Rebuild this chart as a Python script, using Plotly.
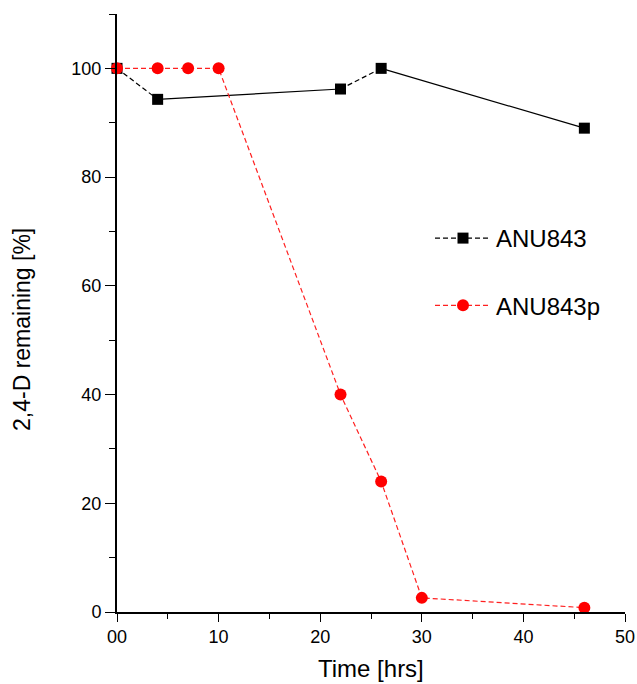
import plotly.graph_objects as go

# Data
time_anu843 = [0, 4, 22, 26, 46]
rem_anu843 = [100, 94.3, 96.2, 100, 89.0]
seg_styles_anu843 = ["5px,3px", "solid", "5px,3px", "solid"]

time_anu843p = [0, 4, 7, 10, 22, 26, 30, 46]
rem_anu843p = [100, 100, 100, 100, 40, 24, 2.6, 0.8]

x_tickvals = [0, 10, 20, 30, 40, 50]
x_ticktext = ["00", "10", "20", "30", "40", "50"]
y_tickvals = [0, 20, 40, 60, 80, 100]

W, H = 637, 684
L, R, T, B = 117, 12, 14, 72
PW, PH = W - L - R, H - T - B

fig = go.Figure()

# ANU843 segments (mixed dash styles)
for i, dash in enumerate(seg_styles_anu843):
    fig.add_trace(go.Scatter(
        x=time_anu843[i:i + 2], y=rem_anu843[i:i + 2], mode="lines",
        line=dict(color="black", width=1.2, dash=dash),
        showlegend=False, hoverinfo="skip", cliponaxis=False))

# ANU843 markers + legend entry
fig.add_trace(go.Scatter(
    x=time_anu843, y=rem_anu843, mode="markers", name="ANU843",
    marker=dict(symbol="square", size=11, color="black"),
    showlegend=False, cliponaxis=False, legendgroup="a"))
fig.add_trace(go.Scatter(
    x=[None], y=[None], mode="lines+markers", name="ANU843",
    line=dict(color="black", width=1.2, dash="5px,3px"),
    marker=dict(symbol="square", size=11, color="black"),
    legendgroup="a"))

# ANU843p
fig.add_trace(go.Scatter(
    x=time_anu843p, y=rem_anu843p, mode="lines+markers", name="ANU843p",
    line=dict(color="#ff2020", width=1.2, dash="5px,3px"),
    marker=dict(symbol="circle", size=12, color="#ff0000"),
    cliponaxis=False, legendgroup="b"))

fig.update_layout(
    width=W, height=H,
    margin=dict(l=L, r=R, t=T, b=B),
    plot_bgcolor="white", paper_bgcolor="white",
    font=dict(family="Liberation Sans, Arial", color="black"),
    showlegend=True,
    legend=dict(x=(430 - L) / PW, y=1 - (216 - T) / PH,
                xanchor="left", yanchor="top",
                font=dict(size=24), tracegroupgap=33,
                bgcolor="rgba(0,0,0,0)", itemwidth=56),
    xaxis=dict(range=[0, 50], showgrid=False, zeroline=False, automargin=False,
               showline=True, linecolor="black", linewidth=1.5,
               tickvals=x_tickvals, ticktext=x_ticktext,
               ticks="outside", ticklen=8, tickwidth=1.2, tickcolor="black",
               tickfont=dict(size=18),
               minor=dict(ticks="outside", ticklen=5, tickwidth=1.2,
                          tickcolor="black", dtick=5, tick0=0, showgrid=False)),
    yaxis=dict(range=[0, 110], showgrid=False, zeroline=False, automargin=False,
               showline=True, linecolor="black", linewidth=2,
               tickvals=y_tickvals,
               ticks="outside", ticklen=10, tickwidth=1.2, tickcolor="black",
               tickfont=dict(size=18),
               minor=dict(ticks="outside", ticklen=6, tickwidth=1.2,
                          tickcolor="black", dtick=20, tick0=10, showgrid=False)),
    annotations=[
        dict(text="Time [hrs]", xref="paper", yref="paper",
             x=0.5, y=-(668 - (H - B)) / PH, yanchor="middle",
             showarrow=False, font=dict(size=24)),
        dict(text="2,4-D remaining [%]", xref="paper", yref="paper",
             x=-(L - 22) / PW, xanchor="center",
             y=1 - (330 - T) / PH, yanchor="middle",
             textangle=-90, showarrow=False, font=dict(size=23)),
    ],
)

fig.write_html("out.html")
